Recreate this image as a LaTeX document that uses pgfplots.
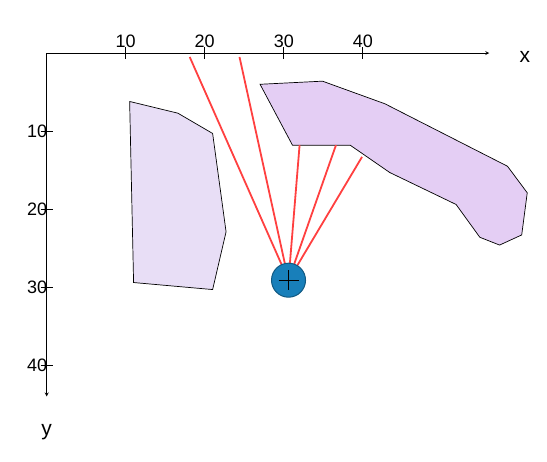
\documentclass[border=0pt]{standalone}
\usepackage{fontspec}
\setmainfont{Liberation Sans}
\usepackage{pgfplots}
\pgfplotsset{compat=1.18}
\definecolor{lavA}{RGB}{232,222,246}
\definecolor{lavB}{RGB}{228,206,244}
\definecolor{robot}{RGB}{24,127,186}
\begin{document}
\begin{tikzpicture}
\begin{axis}[
  x=7.9pt, y=7.8pt, y dir=reverse,
  xmin=0, xmax=56, ymin=0, ymax=44,
  axis lines=middle, axis line style={-stealth, line width=0.8pt},
  clip=false, tick align=center, major tick length=12pt,
  tick style={black, line width=0.8pt},
  xtick={10,20,30,40}, ytick={10,20,30,40},
  xticklabel={\fontsize{18}{18}\selectfont\pgfmathprintnumber[assume math mode=true]{\tick}},
  yticklabel={\fontsize{18}{18}\selectfont\pgfmathprintnumber[assume math mode=true]{\tick}},
  xticklabel style={anchor=south, yshift=8pt},
  yticklabel style={anchor=east, xshift=10pt},
]
\path (axis cs:-5.9,-6.8) rectangle (axis cs:63.3,52.3);
\node[font=\fontsize{21}{21}\selectfont] at (axis cs:60.5,0.5) {x};
\node[font=\fontsize{21}{21}\selectfont] at (axis cs:0,48.6) {y};
\addplot[fill=lavA, draw=black, line width=0.7pt] coordinates {(10.5,6.2)(16.6,7.7)(21.0,10.3)(22.7,22.9)(21.0,30.3)(11.0,29.4)} -- cycle;
\addplot[fill=lavB, draw=black, line width=0.7pt] coordinates {(27.0,4.0)(34.9,3.6)(42.8,6.5)(58.3,14.5)(60.8,17.9)(60.1,23.3)(57.3,24.6)(54.8,23.6)(51.8,19.4)(43.4,15.3)(38.4,11.8)(31.1,11.8)} -- cycle;
\addplot[red!75!white, line width=1.8pt] coordinates {(30.6,29.1)(18.1,0.5)};
\addplot[red!75!white, line width=1.8pt] coordinates {(30.6,29.1)(24.4,0.5)};
\addplot[red!75!white, line width=1.8pt] coordinates {(30.6,29.1)(32.0,11.8)};
\addplot[red!75!white, line width=1.8pt] coordinates {(30.6,29.1)(36.6,11.8)};
\addplot[red!75!white, line width=1.8pt] coordinates {(30.6,29.1)(39.9,13.3)};
\addplot[only marks, mark=*, mark size=17pt, mark options={fill=robot, draw=robot!70!black, line width=1pt}] coordinates {(30.6,29.1)};
\addplot[only marks, mark=+, mark size=10pt, mark options={black, line width=1.2pt}] coordinates {(30.6,29.1)};
\end{axis}
\end{tikzpicture}
\end{document}
